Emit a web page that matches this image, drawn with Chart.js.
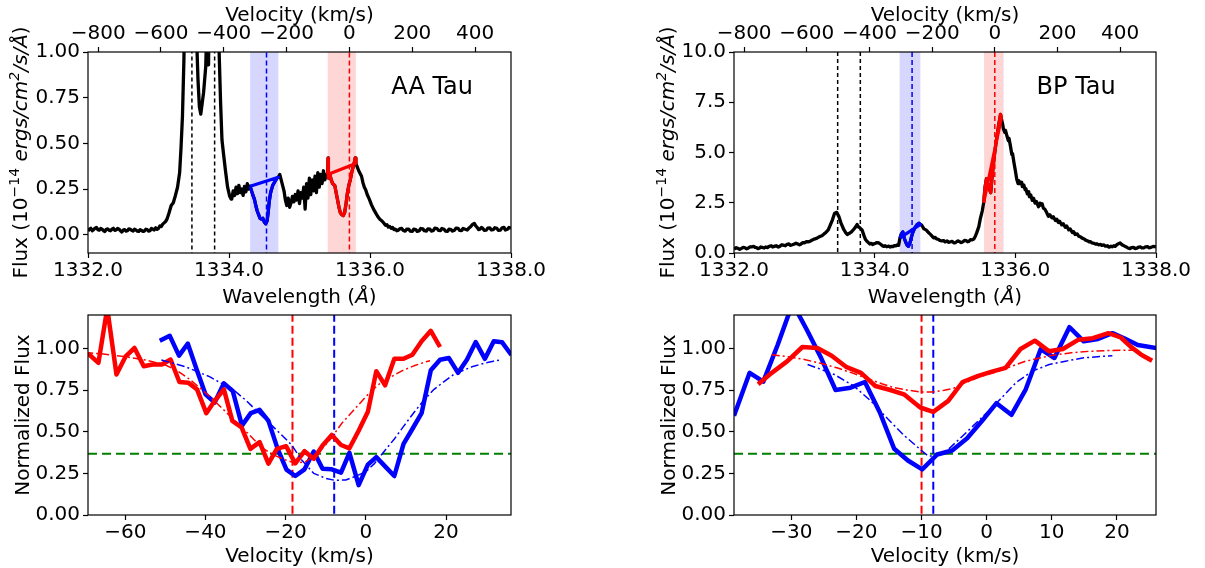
<!DOCTYPE html>
<html>
<head>
<meta charset="utf-8">
<script src="https://cdn.jsdelivr.net/npm/chart.js@4.4.1/dist/chart.umd.min.js"></script>
<style>
  body { margin: 0; background: #fff; }
  #fig { position: relative; width: 1205px; height: 568px; background: #fff; overflow: hidden; }
  canvas { position: absolute; }
</style>
</head>
<body>
<div id="fig">
  <canvas id="aaSpecChart" width="600" height="315" style="left:0px;top:0px"></canvas>
  <canvas id="bpSpecChart" width="565" height="315" style="left:640px;top:0px"></canvas>
  <canvas id="aaVelChart" width="600" height="268" style="left:0px;top:300px"></canvas>
  <canvas id="bpVelChart" width="565" height="268" style="left:640px;top:300px"></canvas>
</div>
<script>
// ---- tick values ----
const waveTicks = [1332, 1334, 1336, 1338];
const velTopTicks = [-800, -600, -400, -200, 0, 200, 400];
const aaFluxTicks = [0, 0.25, 0.5, 0.75, 1.0];
const bpFluxTicks = [0, 2.5, 5, 7.5, 10];
const normTicks = [0, 0.25, 0.5, 0.75, 1.0];
const aaVelTicks = [-60, -40, -20, 0, 20];
const bpVelTicks = [-30, -20, -10, 0, 10, 20];

// top velocity axis is C II 1335.708 on the wavelength range 1332-1338
const velTopRange = [-832.3, 514.4];

// ---- AA Tau spectrum [wavelength, flux] ----
const aaSpecA = [[1332.00,0.020],[1332.02,0.030],[1332.04,0.035],[1332.06,0.022],[1332.08,0.028],[1332.10,0.036],[1332.12,0.040],[1332.14,0.028],[1332.16,0.025],[1332.18,0.034],[1332.20,0.030],[1332.22,0.022],[1332.24,0.018],[1332.26,0.030],[1332.28,0.032],[1332.30,0.025],[1332.32,0.022],[1332.34,0.030],[1332.36,0.035],[1332.38,0.024],[1332.40,0.026],[1332.42,0.034],[1332.44,0.030],[1332.46,0.022],[1332.48,0.015],[1332.50,0.025],[1332.52,0.028],[1332.54,0.020],[1332.56,0.022],[1332.58,0.032],[1332.60,0.030],[1332.62,0.024],[1332.64,0.020],[1332.66,0.030],[1332.68,0.026],[1332.70,0.020],[1332.72,0.018],[1332.74,0.028],[1332.76,0.024],[1332.78,0.018],[1332.80,0.020],[1332.82,0.030],[1332.84,0.028],[1332.86,0.020],[1332.88,0.022],[1332.90,0.034],[1332.92,0.030],[1332.94,0.026],[1332.96,0.038],[1332.98,0.030],[1333.00,0.035],[1333.02,0.048],[1333.04,0.045],[1333.06,0.058],[1333.08,0.065],[1333.10,0.072],[1333.12,0.085],[1333.15,0.120],[1333.18,0.160],[1333.21,0.175],[1333.24,0.215],[1333.27,0.260],[1333.30,0.340],[1333.32,0.480],[1333.34,0.650],[1333.36,0.950],[1333.38,1.400],[1333.42,1.800],[1333.48,1.700],[1333.53,1.200],[1333.56,0.850],[1333.58,0.700],[1333.60,0.660],[1333.62,0.720],[1333.64,0.780],[1333.67,0.920],[1333.69,1.200],[1333.71,0.930],[1333.72,1.400],[1333.76,1.600],[1333.82,1.300],[1333.86,1.000],[1333.88,0.730],[1333.90,0.520],[1333.92,0.450],[1333.95,0.350],[1333.98,0.260],[1334.01,0.210],[1334.03,0.195],[1334.04,0.200],[1334.06,0.240],[1334.08,0.215],[1334.10,0.260],[1334.12,0.225],[1334.14,0.270],[1334.16,0.230],[1334.18,0.250],[1334.20,0.215],[1334.22,0.265],[1334.24,0.235],[1334.26,0.280],[1334.28,0.250]];
const aaBlue = [[1334.30,0.265],[1334.32,0.240],[1334.34,0.215],[1334.36,0.195],[1334.38,0.160],[1334.40,0.130],[1334.42,0.110],[1334.44,0.090],[1334.46,0.085],[1334.48,0.090],[1334.50,0.070],[1334.52,0.060],[1334.54,0.075],[1334.555,0.120],[1334.57,0.180],[1334.59,0.230],[1334.62,0.270],[1334.65,0.290],[1334.68,0.310],[1334.70,0.315]];
const aaSpecB = [[1334.72,0.330],[1334.74,0.300],[1334.76,0.270],[1334.78,0.240],[1334.80,0.190],[1334.82,0.160],[1334.84,0.200],[1334.86,0.150],[1334.88,0.175],[1334.90,0.210],[1334.92,0.180],[1334.94,0.220],[1334.96,0.190],[1334.98,0.240],[1335.00,0.170],[1335.02,0.230],[1335.04,0.200],[1335.06,0.260],[1335.08,0.140],[1335.10,0.280],[1335.12,0.200],[1335.14,0.310],[1335.16,0.220],[1335.18,0.300],[1335.20,0.240],[1335.22,0.320],[1335.24,0.230],[1335.26,0.340],[1335.28,0.260],[1335.30,0.330],[1335.32,0.280],[1335.34,0.350],[1335.36,0.300],[1335.38,0.330]];
const aaRed = [[1335.40,0.330],[1335.405,0.420],[1335.41,0.310],[1335.43,0.330],[1335.45,0.300],[1335.47,0.280],[1335.50,0.270],[1335.52,0.230],[1335.54,0.190],[1335.56,0.150],[1335.58,0.120],[1335.60,0.110],[1335.62,0.105],[1335.64,0.120],[1335.66,0.170],[1335.68,0.230],[1335.70,0.270],[1335.72,0.300],[1335.74,0.340],[1335.76,0.370],[1335.78,0.400],[1335.79,0.420],[1335.80,0.390]];
const aaSpecC = [[1335.82,0.370],[1335.84,0.350],[1335.86,0.335],[1335.88,0.320],[1335.90,0.285],[1335.92,0.260],[1335.94,0.245],[1335.96,0.220],[1335.99,0.195],[1336.02,0.165],[1336.05,0.140],[1336.08,0.120],[1336.11,0.100],[1336.14,0.085],[1336.17,0.075],[1336.20,0.062],[1336.22,0.052],[1336.24,0.055],[1336.26,0.042],[1336.28,0.045],[1336.30,0.035],[1336.32,0.040],[1336.34,0.028],[1336.36,0.030],[1336.38,0.022],[1336.40,0.025],[1336.42,0.032],[1336.45,0.035],[1336.47,0.024],[1336.50,0.020],[1336.52,0.030],[1336.55,0.030],[1336.57,0.020],[1336.60,0.018],[1336.62,0.030],[1336.65,0.028],[1336.67,0.018],[1336.70,0.022],[1336.72,0.034],[1336.75,0.032],[1336.77,0.022],[1336.80,0.020],[1336.82,0.032],[1336.85,0.030],[1336.87,0.020],[1336.90,0.024],[1336.92,0.036],[1336.95,0.034],[1336.97,0.024],[1337.00,0.022],[1337.02,0.034],[1337.05,0.030],[1337.07,0.020],[1337.10,0.018],[1337.12,0.030],[1337.15,0.028],[1337.17,0.020],[1337.20,0.025],[1337.22,0.036],[1337.25,0.035],[1337.27,0.024],[1337.30,0.022],[1337.32,0.034],[1337.35,0.030],[1337.38,0.026],[1337.40,0.035],[1337.43,0.045],[1337.45,0.055],[1337.48,0.062],[1337.50,0.048],[1337.52,0.040],[1337.54,0.028],[1337.56,0.030],[1337.58,0.040],[1337.60,0.035],[1337.62,0.024],[1337.65,0.025],[1337.67,0.036],[1337.70,0.038],[1337.72,0.026],[1337.75,0.028],[1337.77,0.038],[1337.80,0.035],[1337.82,0.024],[1337.85,0.025],[1337.87,0.036],[1337.90,0.040],[1337.92,0.026],[1337.95,0.030],[1337.97,0.040],[1338.00,0.035]];

// ---- BP Tau spectrum [wavelength, flux] ----
const bpSpecA = [[1332.00,0.20],[1332.03,0.26],[1332.05,0.24],[1332.08,0.18],[1332.10,0.22],[1332.13,0.28],[1332.15,0.27],[1332.18,0.21],[1332.20,0.24],[1332.23,0.31],[1332.25,0.30],[1332.28,0.33],[1332.30,0.28],[1332.32,0.27],[1332.34,0.22],[1332.36,0.24],[1332.38,0.30],[1332.40,0.28],[1332.43,0.25],[1332.45,0.30],[1332.48,0.27],[1332.50,0.33],[1332.53,0.36],[1332.55,0.30],[1332.58,0.34],[1332.60,0.36],[1332.63,0.30],[1332.65,0.33],[1332.68,0.41],[1332.70,0.39],[1332.73,0.36],[1332.75,0.42],[1332.78,0.45],[1332.80,0.38],[1332.83,0.41],[1332.85,0.44],[1332.88,0.49],[1332.90,0.46],[1332.93,0.41],[1332.95,0.44],[1332.98,0.52],[1333.00,0.50],[1333.03,0.57],[1333.05,0.55],[1333.08,0.58],[1333.10,0.62],[1333.13,0.68],[1333.15,0.70],[1333.18,0.74],[1333.20,0.78],[1333.23,0.83],[1333.25,0.86],[1333.28,0.95],[1333.30,1.00],[1333.34,1.15],[1333.37,1.40],[1333.40,1.65],[1333.43,1.98],[1333.46,2.02],[1333.49,1.83],[1333.52,1.50],[1333.56,1.17],[1333.59,1.00],[1333.61,0.92],[1333.64,0.98],[1333.67,1.05],[1333.70,1.17],[1333.73,1.30],[1333.75,1.42],[1333.77,1.30],[1333.79,1.25],[1333.82,1.15],[1333.85,0.85],[1333.87,0.67],[1333.89,0.58],[1333.91,0.52],[1333.93,0.45],[1333.95,0.48],[1333.97,0.42],[1333.99,0.46],[1334.01,0.48],[1334.03,0.52],[1334.06,0.50],[1334.09,0.42],[1334.11,0.36],[1334.13,0.33],[1334.15,0.36],[1334.17,0.31],[1334.20,0.34],[1334.22,0.30],[1334.24,0.33],[1334.26,0.32],[1334.28,0.37],[1334.30,0.35],[1334.32,0.40],[1334.34,0.38]];
const bpBlue = [[1334.36,0.75],[1334.38,0.95],[1334.40,1.05],[1334.42,0.75],[1334.44,0.55],[1334.46,0.40],[1334.48,0.33],[1334.50,0.48],[1334.52,0.75],[1334.54,1.00],[1334.57,1.25],[1334.60,1.40],[1334.63,1.48],[1334.65,1.42]];
const bpSpecB = [[1334.67,1.38],[1334.70,1.20],[1334.73,1.15],[1334.75,1.08],[1334.77,1.00],[1334.80,0.90],[1334.82,0.82],[1334.84,0.75],[1334.86,0.78],[1334.88,0.70],[1334.91,0.67],[1334.93,0.62],[1334.95,0.60],[1334.98,0.62],[1335.00,0.55],[1335.03,0.60],[1335.05,0.53],[1335.08,0.56],[1335.10,0.58],[1335.13,0.50],[1335.15,0.52],[1335.18,0.60],[1335.20,0.58],[1335.23,0.52],[1335.25,0.55],[1335.28,0.63],[1335.30,0.62],[1335.32,0.56],[1335.34,0.58],[1335.36,0.66],[1335.38,0.65],[1335.41,0.70],[1335.43,0.82],[1335.45,1.00],[1335.48,1.30],[1335.50,1.67],[1335.53,2.10]];
const bpRed = [[1335.55,2.50],[1335.57,3.30],[1335.59,3.70],[1335.61,3.45],[1335.63,3.20],[1335.65,3.00],[1335.67,3.80],[1335.70,4.80],[1335.73,5.60],[1335.76,6.30],[1335.79,6.90],[1335.80,6.70]];
const bpSpecC = [[1335.82,6.40],[1335.83,6.17],[1335.85,6.00],[1335.86,6.10],[1335.88,5.83],[1335.90,5.60],[1335.91,5.70],[1335.93,5.33],[1335.95,4.90],[1335.96,4.95],[1335.98,4.50],[1336.00,4.10],[1336.02,3.67],[1336.04,3.45],[1336.05,3.60],[1336.07,3.45],[1336.09,3.52],[1336.10,3.30],[1336.12,3.38],[1336.14,3.15],[1336.15,3.20],[1336.17,2.95],[1336.19,3.05],[1336.20,2.80],[1336.22,2.88],[1336.24,2.62],[1336.26,2.72],[1336.28,2.48],[1336.30,2.56],[1336.33,2.30],[1336.35,2.48],[1336.36,2.38],[1336.38,2.45],[1336.40,2.22],[1336.42,2.18],[1336.44,2.05],[1336.47,1.83],[1336.49,1.90],[1336.52,1.75],[1336.54,1.80],[1336.57,1.62],[1336.59,1.68],[1336.61,1.52],[1336.63,1.58],[1336.66,1.40],[1336.68,1.46],[1336.71,1.28],[1336.73,1.34],[1336.76,1.15],[1336.78,1.20],[1336.81,1.02],[1336.83,1.06],[1336.85,0.92],[1336.88,0.95],[1336.90,0.84],[1336.93,0.80],[1336.95,0.74],[1336.98,0.70],[1337.00,0.64],[1337.03,0.60],[1337.05,0.55],[1337.07,0.56],[1337.09,0.50],[1337.12,0.48],[1337.14,0.44],[1337.16,0.46],[1337.18,0.41],[1337.21,0.43],[1337.23,0.38],[1337.26,0.40],[1337.28,0.34],[1337.31,0.36],[1337.33,0.29],[1337.36,0.34],[1337.38,0.31],[1337.40,0.36],[1337.42,0.33],[1337.44,0.40],[1337.46,0.45],[1337.49,0.50],[1337.51,0.43],[1337.53,0.38],[1337.56,0.33],[1337.58,0.30],[1337.60,0.25],[1337.63,0.22],[1337.65,0.27],[1337.68,0.28],[1337.70,0.22],[1337.73,0.24],[1337.75,0.29],[1337.78,0.30],[1337.80,0.25],[1337.83,0.26],[1337.85,0.31],[1337.88,0.32],[1337.90,0.26],[1337.93,0.28],[1337.96,0.33],[1338.00,0.30]];

// marker wavelengths and shaded windows
const blackMarks = [1333.474, 1333.796];
const blueMark = 1334.532;
const redMark = 1335.708;
const aaBlueBand = [1334.30, 1334.70];
const aaRedBand = [1335.40, 1335.80];
const bpBlueBand = [1334.355, 1334.65];
const bpRedBand = [1335.555, 1335.833];

// ---- normalized profiles [velocity, flux] ----
const aaBlueVel = [[-51.4,1.046],[-48.9,1.075],[-46.6,0.956],[-44.4,1.028],[-42.2,0.873],[-40.0,0.724],[-37.7,0.675],[-35.4,0.790],[-33.2,0.744],[-30.9,0.536],[-28.7,0.611],[-26.5,0.631],[-24.3,0.565],[-22.0,0.397],[-19.8,0.272],[-17.6,0.234],[-15.3,0.274],[-13.0,0.381],[-10.8,0.278],[-8.5,0.274],[-6.2,0.254],[-4.1,0.373],[-1.8,0.179],[0.5,0.302],[2.6,0.347],[4.8,0.292],[7.1,0.234],[9.4,0.427],[11.6,0.516],[13.9,0.611],[16.2,0.869],[18.5,0.932],[20.7,0.942],[23.0,0.853],[25.2,0.932],[27.4,1.038],[29.7,0.937],[31.9,1.042],[34.0,1.036],[36.3,0.960]];
const aaRedVel = [[-69.3,0.970],[-66.7,0.913],[-64.5,1.240],[-62.2,0.843],[-59.9,0.952],[-57.7,1.002],[-55.4,0.893],[-53.2,0.903],[-50.9,0.903],[-48.7,0.933],[-46.5,0.798],[-44.3,0.794],[-42.1,0.754],[-39.8,0.611],[-37.7,0.685],[-35.4,0.754],[-33.3,0.565],[-31.0,0.526],[-28.8,0.397],[-26.5,0.437],[-24.3,0.308],[-22.2,0.397],[-19.9,0.413],[-17.6,0.310],[-15.3,0.383],[-13.0,0.337],[-10.8,0.417],[-8.5,0.480],[-6.2,0.420],[-4.1,0.400],[-1.8,0.506],[0.5,0.619],[2.6,0.863],[4.8,0.778],[7.1,0.937],[9.4,0.937],[11.6,0.962],[13.9,1.042],[16.2,1.105],[18.5,1.008]];
const aaRedFit = [[-70,0.975],[-65,0.965],[-60,0.950],[-55,0.930],[-50,0.900],[-47,0.865],[-44,0.815],[-41,0.755],[-38,0.690],[-35,0.620],[-32,0.550],[-29,0.480],[-26,0.405],[-23,0.360],[-20,0.330],[-17.5,0.310],[-15,0.320],[-12,0.370],[-9,0.450],[-6,0.550],[-3,0.630],[0,0.710],[3,0.780],[6,0.825],[9,0.865],[12,0.895],[15,0.920],[16,0.925]];
const aaBlueFit = [[-51,0.930],[-48,0.910],[-45,0.890],[-42,0.860],[-39,0.830],[-36,0.790],[-33,0.750],[-30,0.690],[-27,0.620],[-24,0.550],[-21,0.480],[-18.5,0.420],[-16,0.330],[-13,0.250],[-10,0.220],[-7.7,0.208],[-5,0.210],[-2.8,0.230],[0,0.260],[2.2,0.310],[4.5,0.380],[7.1,0.456],[9.5,0.535],[12,0.615],[14.5,0.690],[17,0.754],[19.5,0.800],[21.9,0.843],[24.5,0.870],[26.9,0.893],[29.5,0.910],[31.8,0.923],[33.5,0.930]];

const bpBlueVel = [[-38.8,0.595],[-36.4,0.853],[-34.3,0.800],[-32.1,1.020],[-29.8,1.270],[-27.6,1.110],[-25.4,0.940],[-23.2,0.750],[-20.9,0.764],[-18.7,0.798],[-16.4,0.615],[-14.2,0.397],[-12.1,0.327],[-9.9,0.274],[-7.6,0.363],[-5.3,0.387],[-3.0,0.460],[-0.7,0.565],[1.5,0.671],[3.8,0.601],[6.0,0.754],[8.3,0.996],[10.4,0.942],[12.7,1.127],[14.9,1.042],[17.1,1.056],[19.3,1.091],[21.1,1.060],[23.2,1.020],[26.3,1.000]];
const bpRedVel = [[-35.1,0.784],[-33.0,0.853],[-30.6,0.923],[-28.3,1.008],[-26.0,1.002],[-23.8,0.956],[-21.5,0.887],[-19.3,0.853],[-17.1,0.774],[-14.8,0.750],[-12.7,0.724],[-10.2,0.645],[-8.2,0.619],[-5.9,0.685],[-3.7,0.798],[-1.4,0.833],[0.8,0.860],[2.9,0.883],[5.2,0.996],[7.4,1.046],[9.6,0.982],[11.7,0.996],[14.1,1.052],[16.3,1.061],[18.7,1.091],[20.6,1.065],[22.1,1.010],[23.8,0.960],[25.4,0.925]];
const bpRedFit = [[-33,0.962],[-30.5,0.950],[-28,0.933],[-25.5,0.910],[-23,0.883],[-20.5,0.850],[-18,0.814],[-16,0.786],[-14.2,0.764],[-12,0.748],[-10,0.738],[-8.3,0.738],[-6.5,0.748],[-5,0.762],[-3.5,0.790],[-1,0.830],[2,0.865],[4,0.895],[6,0.923],[8.5,0.945],[10.6,0.962],[13,0.973],[15.7,0.982],[18,0.986],[20.6,0.988],[23.2,0.990]];
const bpBlueFit = [[-27.5,0.903],[-25.5,0.875],[-23.4,0.843],[-20.4,0.774],[-17.8,0.685],[-15.2,0.577],[-12.7,0.478],[-10.1,0.390],[-9.0,0.355],[-7.8,0.352],[-5.8,0.397],[-3,0.500],[-1,0.575],[1.6,0.675],[4.5,0.794],[7.0,0.863],[9.6,0.903],[12.1,0.923],[14.7,0.942],[17,0.950],[19.3,0.956]];

const aaVelMarks = { red: -18.3, blue: -7.9 };
const bpVelMarks = { red: -10.0, blue: -8.2 };
const oneOverE = 0.368;

// ---- helpers ----
Chart.defaults.font.family = "'DejaVu Sans', sans-serif";
Chart.defaults.color = '#000';

const BLUE = '#0000ff', RED = '#ff0000', GREEN = '#008000', BLACK = '#000000';
const decor = {};

function minus(v) { return String(v).replace('-', '\u2212'); }

function line(data, color, width, dash) {
  return {
    data: data, borderColor: color, borderWidth: width, borderDash: dash || [],
    pointRadius: 0, showLine: true, fill: false, tension: 0, clip: 0,
    borderJoinStyle: 'round', xAxisID: 'x', yAxisID: 'y'
  };
}
function vline(x, yr, color, width, dash) { return line([[x, yr[0]], [x, yr[1]]], color, width, dash); }
function hline(y, xr, color, width, dash) { return line([[xr[0], y], [xr[1], y]], color, width, dash); }

function axis(pos, range, ticks, fmt, size) {
  return {
    type: 'linear', position: pos, min: range[0], max: range[1],
    afterBuildTicks: function(sc) { sc.ticks = ticks.map(v => ({ value: v })); },
    afterFit: function(sc) { if (pos === 'left') sc.width = size; else sc.height = size; },
    ticks: { callback: fmt, autoSkip: false, maxRotation: 0, minRotation: 0,
             padding: pos === 'left' ? 3 : 1, color: '#000', font: { size: 20 } },
    grid: { display: true, drawOnChartArea: false, drawTicks: true, tickLength: 5,
            tickWidth: 1.2, color: '#000' },
    border: { display: false }
  };
}

function drawRich(ctx, segs, x, y, size, align, rot) {
  ctx.save();
  ctx.translate(x, y);
  ctx.rotate(rot || 0);
  ctx.textBaseline = 'alphabetic';
  const parts = segs.map(s => {
    const sup = s[1].indexOf('s') >= 0, it = s[1].indexOf('i') >= 0;
    const fs = sup ? Math.round(size * 0.7) : size;
    const font = (it ? 'italic ' : '') + fs + "px 'DejaVu Sans'";
    ctx.font = font;
    return { t: s[0], font: font, w: ctx.measureText(s[0]).width, dy: sup ? -size * 0.42 : 0 };
  });
  const total = parts.reduce((t, p) => t + p.w, 0);
  let cx = align === 'center' ? -total / 2 : 0;
  ctx.fillStyle = '#000';
  parts.forEach(p => { ctx.font = p.font; ctx.fillText(p.t, cx, p.dy); cx += p.w; });
  ctx.restore();
}

const figDecor = {
  id: 'figDecor',
  beforeDatasetsDraw(chart) {
    const d = decor[chart.canvas.id], a = chart.chartArea, ctx = chart.ctx, xs = chart.scales.x;
    ctx.save();
    ctx.beginPath();
    ctx.rect(a.left, a.top, a.right - a.left, a.bottom - a.top);
    ctx.clip();
    (d.bands || []).forEach(b => {
      const x0 = xs.getPixelForValue(b[0]), x1 = xs.getPixelForValue(b[1]);
      ctx.fillStyle = b[2];
      ctx.fillRect(x0, a.top, x1 - x0, a.bottom - a.top);
    });
    ctx.restore();
  },
  afterDatasetsDraw(chart) {
    const a = chart.chartArea, ctx = chart.ctx;
    ctx.save();
    ctx.strokeStyle = '#000';
    ctx.lineWidth = 1.2;
    ctx.strokeRect(a.left, a.top, a.right - a.left, a.bottom - a.top);
    ctx.restore();
  },
  afterDraw(chart) {
    const d = decor[chart.canvas.id], a = chart.chartArea, ctx = chart.ctx;
    (d.texts || []).forEach(t => {
      const p = t.pos(a);
      drawRich(ctx, t.segs, p[0], p[1], t.size || 20, t.align || 'center', t.rot || 0);
    });
  }
};

const fluxTitle = [['Flux (10', 'n'], ['\u221214', 's'], [' ', 'n'], ['ergs/cm', 'i'], ['2', 'si'], ['/s/\u00c5', 'i'], [')', 'n']];

function specTexts(label, leftGap) {
  return [
    { segs: [['Velocity (km/s)', 'n']], pos: a => [(a.left + a.right) / 2, a.top - 31] },
    { segs: [['Wavelength (', 'n'], ['\u00c5', 'i'], [')', 'n']], pos: a => [(a.left + a.right) / 2, a.bottom + 50] },
    { segs: fluxTitle, pos: a => [a.left - leftGap, (a.top + a.bottom) / 2], rot: -Math.PI / 2 },
    { segs: [[label, 'n']], size: 24, align: 'left', pos: a => [a.left + 0.717 * (a.right - a.left), a.top + 41.8] }
  ];
}
function velTexts(leftGap) {
  return [
    { segs: [['Velocity (km/s)', 'n']], pos: a => [(a.left + a.right) / 2, a.bottom + 47] },
    { segs: [['Normalized Flux', 'n']], pos: a => [a.left - leftGap, (a.top + a.bottom) / 2], rot: -Math.PI / 2 }
  ];
}

function makeChart(id, s) {
  decor[id] = s;
  const scales = {
    x: axis('bottom', s.xRange, s.xTicks, s.xFmt, s.bottom),
    y: axis('left', s.yRange, s.yTicks, s.yFmt, s.left)
  };
  if (s.top) scales.xTop = axis('top', velTopRange, velTopTicks, v => minus(v), s.top);
  return new Chart(document.getElementById(id), {
    type: 'scatter',
    data: { datasets: s.datasets },
    options: {
      responsive: false, animation: false, devicePixelRatio: 1, events: [],
      layout: { padding: { top: s.padTop || 0, right: s.padRight, left: 0, bottom: 0 } },
      plugins: { legend: { display: false }, tooltip: { enabled: false } },
      scales: scales
    },
    plugins: [figDecor]
  });
}

const waveFmt = v => v.toFixed(1);
const dashV = [5, 3];
const dashBlack = [4, 3];
const dashDot = [8, 3, 2, 3];
const dashBig = [8, 4];

// ---- top left: AA Tau spectrum ----
makeChart('aaSpecChart', {
  left: 88, top: 52, bottom: 62, padRight: 89,
  xRange: [1332, 1338], yRange: [-0.1, 1.0],
  xTicks: waveTicks, yTicks: aaFluxTicks, xFmt: waveFmt, yFmt: v => v.toFixed(2),
  bands: [[aaBlueBand[0], aaBlueBand[1], 'rgba(0,0,255,0.16)'], [aaRedBand[0], aaRedBand[1], 'rgba(255,0,0,0.16)']],
  texts: specTexts('AA Tau', 61),
  datasets: [
    line(aaBlue.concat([aaBlue[0]]), BLUE, 3.2),
    line(aaRed.concat([aaRed[0]]), RED, 3.2),
    vline(blueMark, [-1, 2], BLUE, 1.5, dashV),
    vline(redMark, [-1, 2], RED, 1.5, dashV),
    vline(blackMarks[0], [-1, 2], BLACK, 1.5, dashBlack),
    vline(blackMarks[1], [-1, 2], BLACK, 1.5, dashBlack),
    line([].concat(aaSpecA, aaBlue, aaSpecB, aaRed, aaSpecC), BLACK, 3.3)
  ]
});

// ---- top right: BP Tau spectrum ----
makeChart('bpSpecChart', {
  left: 94, top: 52, bottom: 62, padRight: 49,
  xRange: [1332, 1338], yRange: [0, 10],
  xTicks: waveTicks, yTicks: bpFluxTicks, xFmt: waveFmt, yFmt: v => v.toFixed(1),
  bands: [[bpBlueBand[0], bpBlueBand[1], 'rgba(0,0,255,0.16)'], [bpRedBand[0], bpRedBand[1], 'rgba(255,0,0,0.16)']],
  texts: specTexts('BP Tau', 60),
  datasets: [
    line(bpBlue.concat([bpBlue[0]]), BLUE, 3.2),
    line(bpRed.concat([bpRed[0]]), RED, 3.2),
    vline(blueMark, [-1, 20], BLUE, 1.5, dashV),
    vline(redMark, [-1, 20], RED, 1.5, dashV),
    vline(blackMarks[0], [-1, 20], BLACK, 1.5, dashBlack),
    vline(blackMarks[1], [-1, 20], BLACK, 1.5, dashBlack),
    line([].concat(bpSpecA, bpBlue, bpSpecB, bpRed, bpSpecC), BLACK, 3.3)
  ]
});

// ---- bottom left: AA Tau velocity profiles ----
const aaVelRange = [-69.3, 36.2];
makeChart('aaVelChart', {
  left: 88, bottom: 53, padTop: 13, padRight: 89,
  xRange: aaVelRange, yRange: [0, 1.2],
  xTicks: aaVelTicks, yTicks: normTicks, xFmt: v => minus(v), yFmt: v => v.toFixed(2),
  texts: velTexts(59),
  datasets: [
    line(aaRedFit, RED, 1.5, dashDot),
    line(aaBlueFit, BLUE, 1.5, dashDot),
    line(aaRedVel, RED, 4.5),
    line(aaBlueVel, BLUE, 4.5),
    vline(aaVelMarks.red, [-1, 2], RED, 2, dashBig),
    vline(aaVelMarks.blue, [-1, 2], BLUE, 2, dashBig),
    hline(oneOverE, aaVelRange, GREEN, 2, [9, 5])
  ]
});

// ---- bottom right: BP Tau velocity profiles ----
const bpVelRange = [-38.8, 26.0];
makeChart('bpVelChart', {
  left: 94, bottom: 53, padTop: 13, padRight: 49,
  xRange: bpVelRange, yRange: [0, 1.2],
  xTicks: bpVelTicks, yTicks: normTicks, xFmt: v => minus(v), yFmt: v => v.toFixed(2),
  texts: velTexts(59),
  datasets: [
    line(bpRedFit, RED, 1.5, dashDot),
    line(bpBlueFit, BLUE, 1.5, dashDot),
    line(bpRedVel, RED, 4.5),
    line(bpBlueVel, BLUE, 4.5),
    vline(bpVelMarks.red, [-1, 2], RED, 2, dashBig),
    vline(bpVelMarks.blue, [-1, 2], BLUE, 2, dashBig),
    hline(oneOverE, bpVelRange, GREEN, 2, [9, 5])
  ]
});
</script>
</body>
</html>
